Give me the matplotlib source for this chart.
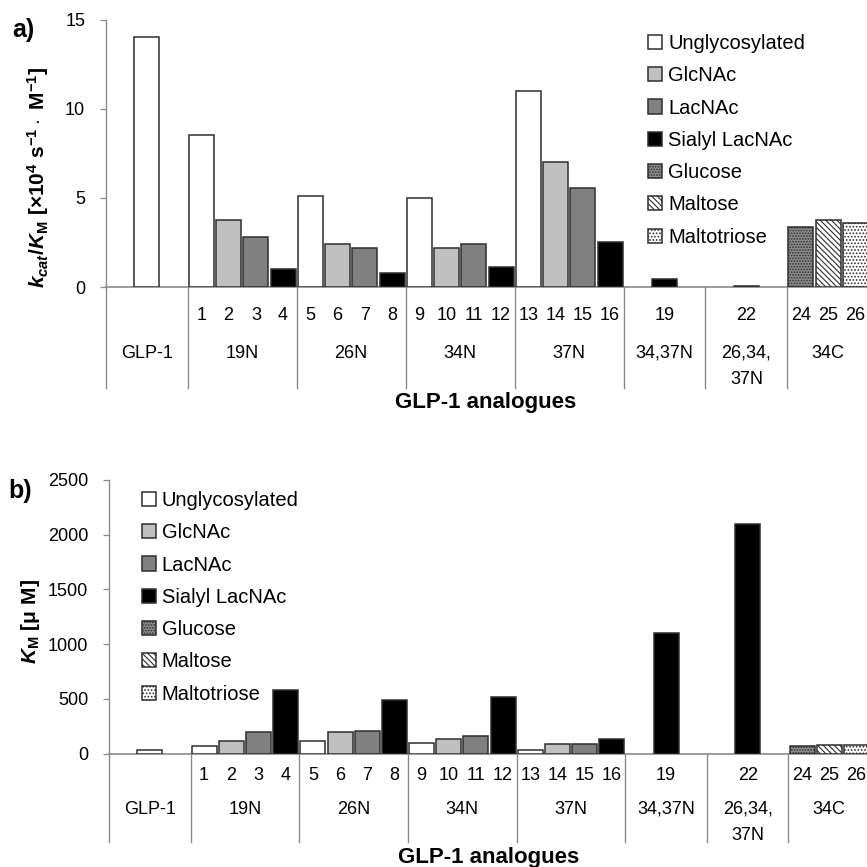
import matplotlib
matplotlib.use('Agg')
import matplotlib.pyplot as plt
from matplotlib.transforms import blended_transform_factory, ScaledTranslation
import numpy as np

plt.rcParams['font.family'] = ['Liberation Sans', 'DejaVu Sans']
plt.rcParams['mathtext.fontset'] = 'custom'
plt.rcParams['mathtext.rm'] = 'Liberation Sans:bold'
plt.rcParams['mathtext.it'] = 'Liberation Sans:italic:bold'
plt.rcParams['mathtext.bf'] = 'Liberation Sans:bold'
plt.rcParams['hatch.linewidth'] = 0.8

# ---------------- data ----------------
group_names = ['GLP-1', '19N', '26N', '34N', '37N', '34,37N', '26,34,\n37N', '34C']
group_members = [['GLP-1'], ['1', '2', '3', '4'], ['5', '6', '7', '8'],
                 ['9', '10', '11', '12'], ['13', '14', '15', '16'],
                 ['19'], ['22'], ['24', '25', '26']]
glycan = ['Unglycosylated',
          'Unglycosylated', 'GlcNAc', 'LacNAc', 'Sialyl LacNAc',
          'Unglycosylated', 'GlcNAc', 'LacNAc', 'Sialyl LacNAc',
          'Unglycosylated', 'GlcNAc', 'LacNAc', 'Sialyl LacNAc',
          'Unglycosylated', 'GlcNAc', 'LacNAc', 'Sialyl LacNAc',
          'Sialyl LacNAc', 'Sialyl LacNAc',
          'Glucose', 'Maltose', 'Maltotriose']
kcat_km = [14.0,
           8.5, 3.75, 2.8, 1.0,
           5.1, 2.4, 2.2, 0.8,
           5.0, 2.2, 2.4, 1.1,
           11.0, 7.0, 5.55, 2.5,
           0.45, 0.08,
           3.35, 3.75, 3.6]
km = [30,
      65, 115, 195, 580,
      115, 195, 210, 490,
      92, 130, 157, 515,
      30, 83, 83, 130,
      1100, 2100,
      67, 82, 82]
glycan_types = ['Unglycosylated', 'GlcNAc', 'LacNAc', 'Sialyl LacNAc',
                'Glucose', 'Maltose', 'Maltotriose']

# ---------------- styles ----------------
style = {
    'Unglycosylated': ('white', None),
    'GlcNAc': ('#c0c0c0', None),
    'LacNAc': ('#808080', None),
    'Sialyl LacNAc': ('black', None),
    'Glucose': ('#8c8c8c', '......'),
    'Maltose': ('white', '\\\\\\\\\\\\'),
    'Maltotriose': ('white', '.....'),
}
EDGE = '#2e2e2e'
AXC = '#8a8a8a'

# ---------------- layout of categories ----------------
pos, centers, bounds = [], [], [-0.5]
start = 0
for members in group_members:
    slots = 3 if len(members) == 1 else len(members)
    off = (slots - len(members)) / 2
    for i in range(len(members)):
        pos.append(start + off + i)
    centers.append(start + (slots - 1) / 2)
    start += slots
    bounds.append(start - 0.5)
n_slots = start

W = H = 867.0
fig = plt.figure(figsize=(8.67, 8.67), dpi=100)


def rect(left, right, zero, top):
    return [left / W, 1 - zero / H, (right - left) / W, (zero - top) / H]


def draw(ax, values, ymax, ystep, num_base, grp_top, div_len, leg_xy):
    ax.set_xlim(-0.5, n_slots - 0.5)
    ax.set_ylim(0, ymax)
    for g in glycan_types:
        idx = [i for i, t in enumerate(glycan) if t == g]
        fc, ht = style[g]
        ax.bar([pos[i] for i in idx], [values[i] for i in idx], width=0.92,
               facecolor=fc, edgecolor=EDGE, hatch=ht, linewidth=1.1,
               label=g, zorder=3)
    for s in ['top', 'right']:
        ax.spines[s].set_visible(False)
    ax.spines['left'].set_color(AXC)
    ax.spines['bottom'].set_color(AXC)
    ax.spines['left'].set_linewidth(1.0)
    ax.spines['bottom'].set_linewidth(1.2)
    ax.set_xticks([])
    ax.set_yticks(np.arange(0, ymax + 1, ystep))
    ax.tick_params(axis='y', direction='out', length=4, width=0.9,
                   color=AXC, pad=11, labelsize=13)
    xt = blended_transform_factory(ax.transData, ax.transAxes)

    def off(px):
        return xt + ScaledTranslation(0, -px / 100.0, fig.dpi_scale_trans)

    gi = 0
    for members, gname in zip(group_members, group_names):
        for m in members:
            if m != gname:
                ax.text(pos[gi], 0, m, transform=off(num_base), ha='center',
                        va='baseline', fontsize=13)
            gi += 1
    for c, gname in zip(centers, group_names):
        ax.text(c, 0, gname, transform=off(grp_top), ha='center',
                va='top', fontsize=13, linespacing=1.7)
    hpx = ax.bbox.height
    for b in bounds:
        ax.plot([b, b], [0, -div_len / hpx], transform=xt, color=AXC,
                lw=1.0, clip_on=False)
    ax.legend(loc='upper left', bbox_to_anchor=(leg_xy[0] / W, 1 - leg_xy[1] / H),
              bbox_transform=fig.transFigure, frameon=False, fontsize=14.5,
              handlelength=0.7, handleheight=0.7, handletextpad=0.3,
              labelspacing=0.66, borderpad=0, borderaxespad=0)


axA = fig.add_axes(rect(106, 869, 287, 19.5))
draw(axA, kcat_km, 15, 5, 33, 58, 101, (648, 34))
axB = fig.add_axes(rect(109, 870, 753.5, 480))
draw(axB, km, 2500, 500, 26.7, 47.5, 88, (141.7, 491))

fig.text(486 / W, 1 - 408 / H, 'GLP-1 analogues', ha='center', va='baseline',
         fontsize=16, fontweight='bold')
fig.text(489 / W, 1 - 863 / H, 'GLP-1 analogues', ha='center', va='baseline',
         fontsize=16, fontweight='bold')

fig.text(12 / W, 1 - 36.6 / H, 'a)', ha='left', va='baseline', fontsize=18,
         fontweight='bold')
fig.text(8 / W, 1 - 498 / H, 'b)', ha='left', va='baseline', fontsize=18,
         fontweight='bold')

fig.text(38 / W, 1 - 177 / H,
         r'$k_{cat}/K_{\mathrm{M}}\ \mathrm{[\times 10^{4}\ s^{-1}\cdot\ M^{-1}]}$',
         rotation=90, ha='center', va='center', fontsize=15)
fig.text(30 / W, 1 - 621 / H, r'$K_{\mathrm{M}}\ \mathrm{[\mu\ M]}$',
         rotation=90, ha='center', va='center', fontsize=15)

fig.savefig('out.png', dpi=100)
